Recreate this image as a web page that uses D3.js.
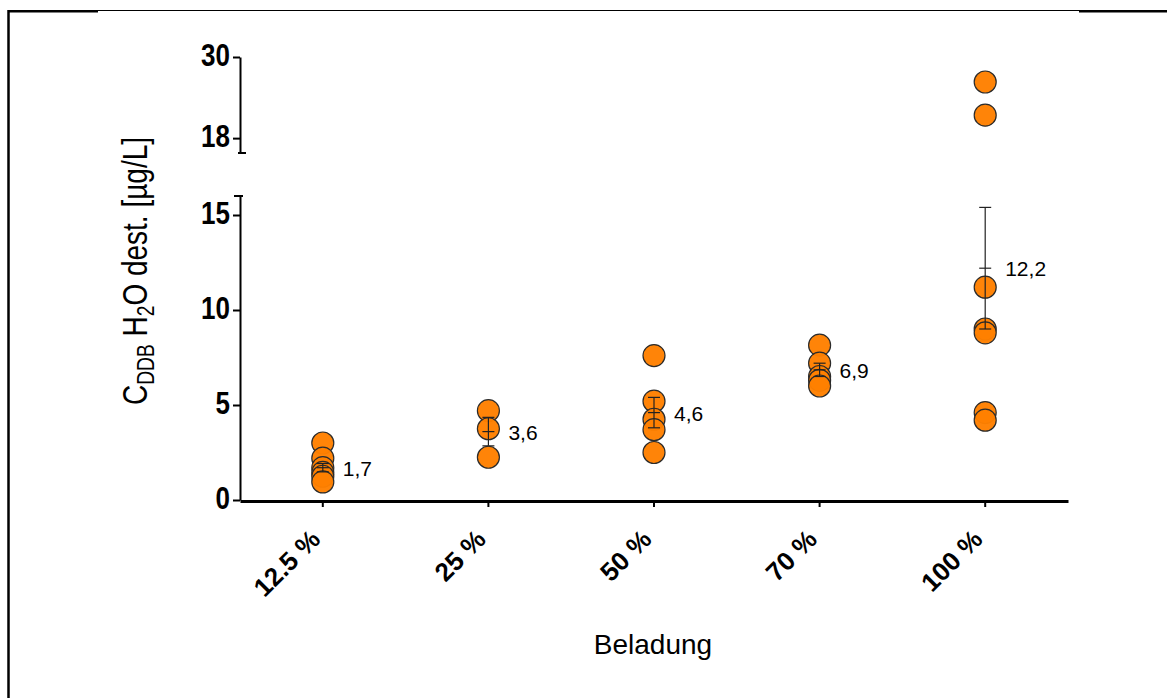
<!DOCTYPE html>
<html>
<head>
<meta charset="utf-8">
<script src="https://cdn.jsdelivr.net/npm/d3@7"></script>
<style>
  body { margin: 0; background: #fff; }
  svg { display: block; font-family: "Liberation Sans", Arial, sans-serif; }
</style>
</head>
<body>
<svg id="chart" width="1167" height="698"></svg>
<script>
// data
const categories = ["12.5 %", "25 %", "50 %", "70 %", "100 %"];
const load125 = [3.0, 2.2, 1.7, 1.45, 1.25, 0.95];
const load25 = [4.7, 3.75, 2.25];
const load50 = [7.6, 5.2, 4.25, 3.7, 2.5];
const load70 = [8.15, 7.2, 6.5, 6.3, 6.0];
const load100 = [26.3, 21.4, 11.2, 9.0, 8.8, 4.6, 4.2];
const means = [1.7, 3.6, 4.6, 6.85, 12.2];
const sem = [0.22, 0.75, 0.8, 0.35, 3.2];
const meanLabels = ["1,7", "3,6", "4,6", "6,9", "12,2"];
const lowTicks = [0, 5, 10, 15];
const highTicks = [18, 30];

const groups = [load125, load25, load50, load70, load100];

const svg = d3.select("#chart");

// page frame (scan edges)
svg.append("line").attr("x1", 8.5).attr("x2", 8.5).attr("y1", 10).attr("y2", 698)
  .attr("stroke", "#000").attr("stroke-width", 2.5);
svg.append("line").attr("x1", 8).attr("x2", 1167).attr("y1", 10.5).attr("y2", 10.5)
  .attr("stroke", "#000").attr("stroke-width", 1);
svg.append("line").attr("x1", 8).attr("x2", 98).attr("y1", 11.3).attr("y2", 11.3)
  .attr("stroke", "#000").attr("stroke-width", 2.5);
svg.append("line").attr("x1", 1079).attr("x2", 1167).attr("y1", 11.3).attr("y2", 11.3)
  .attr("stroke", "#000").attr("stroke-width", 2.5);

const x = d3.scaleBand().domain(categories).range([240, 1068]);
const yLow = d3.scaleLinear().domain([0, 16]).range([500, 196]);
const yHigh = d3.scaleLinear().domain([15.8, 30]).range([153, 57]);
const y = v => v > 16 ? yHigh(v) : yLow(v);
const cx = c => x(c) + x.bandwidth() / 2;

// y axes (broken)
const gLow = svg.append("g").attr("transform", "translate(240,0)")
  .call(d3.axisLeft(yLow).tickValues(lowTicks).tickSize(7).tickSizeOuter(0).tickPadding(3));
const gHigh = svg.append("g").attr("transform", "translate(240,0)")
  .call(d3.axisLeft(yHigh).tickValues(highTicks).tickSize(7).tickSizeOuter(0).tickPadding(3));
[gLow, gHigh].forEach(g => {
  g.select(".domain").attr("stroke-width", 2);
  g.selectAll(".tick line").attr("stroke-width", 2);
  g.selectAll(".tick text").attr("font-size", 26).attr("font-weight", "bold").attr("fill", "#000")
    .attr("transform", "scale(1,1.18)").attr("dy", "0.28em");
});
// break caps
svg.append("line").attr("x1", 234).attr("x2", 243).attr("y1", yLow(16)).attr("y2", yLow(16))
  .attr("stroke", "#000").attr("stroke-width", 2);
svg.append("line").attr("x1", 238).attr("x2", 246).attr("y1", yHigh(15.8)).attr("y2", yHigh(15.8))
  .attr("stroke", "#000").attr("stroke-width", 2);

// x axis
const gx = svg.append("g").attr("transform", "translate(0,501)")
  .call(d3.axisBottom(x).tickSize(6).tickSizeOuter(0));
gx.select(".domain").attr("stroke-width", 3);
gx.selectAll(".tick line").attr("stroke-width", 2);
gx.selectAll(".tick text")
  .attr("font-size", 26).attr("font-weight", "bold").attr("fill", "#000")
  .attr("text-anchor", "end").attr("x", 0).attr("y", 0).attr("dy", 0)
  .attr("transform", "translate(-1,40) rotate(-45)");

// error bars + mean
const bars = svg.append("g").attr("stroke", "#222").attr("stroke-width", 1.2);
categories.forEach((c, i) => {
  const xc = cx(c);
  bars.append("line").attr("x1", xc).attr("x2", xc)
    .attr("y1", y(means[i] - sem[i])).attr("y2", y(means[i] + sem[i]));
  [means[i] - sem[i], means[i], means[i] + sem[i]].forEach(v => {
    bars.append("line").attr("x1", xc - 6).attr("x2", xc + 6).attr("y1", y(v)).attr("y2", y(v));
  });
});

// points
const pts = svg.append("g");
groups.forEach((vals, i) => {
  pts.selectAll(null).data(vals).enter().append("circle")
    .attr("cx", cx(categories[i])).attr("cy", d => y(d)).attr("r", 11)
    .attr("fill", "#ff8000").attr("fill-opacity", 0.97)
    .attr("stroke", "#2b2b2b").attr("stroke-width", 1.2);
});

// error bars drawn over the points
bars.raise();

// mean labels
svg.append("g").selectAll("text").data(meanLabels).enter().append("text")
  .attr("x", (d, i) => cx(categories[i]) + 20)
  .attr("y", (d, i) => y(means[i]) + 8)
  .attr("font-size", 21).attr("fill", "#000")
  .text(d => d);

// axis titles
const yt = svg.append("text")
  .attr("transform", "translate(147,271) rotate(-90) scale(0.8,1)")
  .attr("text-anchor", "middle").attr("font-size", 35).attr("fill", "#000");
yt.append("tspan").text("C");
yt.append("tspan").attr("font-size", 24).attr("dy", 7).text("DDB");
yt.append("tspan").attr("dy", -7).text(" H");
yt.append("tspan").attr("font-size", 24).attr("dy", 7).text("2");
yt.append("tspan").attr("dy", -7).text("O dest. [µg/L]");

svg.append("text").attr("x", 653).attr("y", 654).attr("text-anchor", "middle")
  .attr("font-size", 28).attr("fill", "#000").text("Beladung");
</script>
</body>
</html>
